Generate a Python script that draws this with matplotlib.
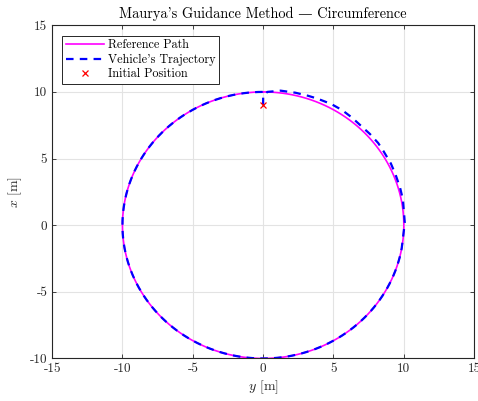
import numpy as np
import matplotlib
matplotlib.use("Agg")
import matplotlib.pyplot as plt

plt.rcParams['font.family'] = ['cmr10', 'DejaVu Serif']
plt.rcParams['mathtext.fontset'] = 'cm'
plt.rcParams['axes.formatter.use_mathtext'] = False
plt.rcParams['axes.unicode_minus'] = False

# reference path: circle of radius 10 m
radius = 10.0
path_angle_deg = np.arange(0, 361, 2)

# vehicle trajectory: start, then (angle, radius)
start_y = [0.0, 0.0, 0.3]
start_x = [9.0, 9.7, 10.0]
traj_angle_deg = [7, 13, 18, 22, 28, 33, 38, 43, 48, 53, 57, 63, 68, 74, 79, 89, 100]
traj_radius = [10.17, 10.2, 10.22, 10.25, 10.3, 10.3, 10.25, 10.2, 10.22, 10.24,
               10.2, 10.19, 10.15, 10.13, 10.12, 10.07, 10.0]

init_pos = (0.0, 9.0)  # (y, x)

fig = plt.figure(figsize=(4.78, 4.01), dpi=100)
ax = fig.add_axes([0.109, 0.106, 0.883, 0.831])

th = np.deg2rad(path_angle_deg)
ax.plot(radius * np.sin(th), radius * np.cos(th), color='#ff00ff', lw=1.2,
        label='Reference Path')

ta = np.deg2rad(traj_angle_deg)
tr = np.array(traj_radius)
rest = th[path_angle_deg > traj_angle_deg[-1]]
ty = np.concatenate([start_y, tr * np.sin(ta), radius * np.sin(rest)])
tx = np.concatenate([start_x, tr * np.cos(ta), radius * np.cos(rest)])
ax.plot(ty, tx, color='#0000ff', lw=1.6, ls=(0, (3.4, 2.8)),
        label="Vehicle's Trajectory")

ax.plot(init_pos[0], init_pos[1], 'x', color='red', ms=4, mew=0.9,
        ls='none', label='Initial Position')

ax.set_xlim(-15, 15)
ax.set_ylim(-10, 15)
ax.set_xticks(np.arange(-15, 16, 5))
ax.set_yticks(np.arange(-10, 16, 5))
ax.grid(True, color='#e3e3e3', lw=0.8)
ax.set_axisbelow(True)
ax.tick_params(direction='in', top=True, right=True, labelsize=9.5,
               length=3, width=0.6, colors='#262626')
for s in ax.spines.values():
    s.set_color('#262626')
    s.set_linewidth(0.8)

ax.set_xlabel(r'$y$ [m]', fontsize=10, color='#262626', labelpad=2)
ax.set_ylabel(r'$x$ [m]', fontsize=10, color='#262626', labelpad=4)
ax.set_title("Maurya's Guidance Method \u2014 Circumference", fontsize=10.3,
             pad=5)

leg = ax.legend(loc='upper left', fontsize=8.75, frameon=True, fancybox=False,
                edgecolor='#262626', framealpha=1, handlelength=3.15,
                borderpad=0.3, labelspacing=0.2, handletextpad=0.3,
                borderaxespad=0.85)
leg.get_frame().set_linewidth(0.7)

fig.savefig('out.png', dpi=100)
